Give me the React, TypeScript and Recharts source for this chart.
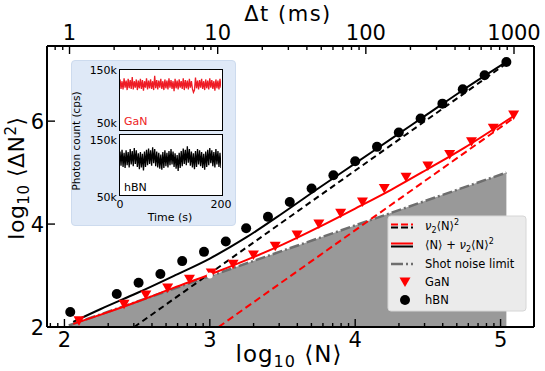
import React from 'react'
import { ComposedChart, LineChart, Line, Area, Scatter, XAxis, YAxis } from 'recharts'

const FONT = '"DejaVu Sans", Verdana, sans-serif'
const RED = '#ff0000'

// hBN / GaN points, log10 <N> vs log10 <dN^2>
const hbnX = [2.04, 2.36, 2.51, 2.66, 2.81, 2.96, 3.11, 3.25, 3.40, 3.55, 3.70, 3.85, 4.00, 4.15, 4.30, 4.45, 4.60, 4.74, 4.89, 5.04]
const hbnY = [2.29, 2.64, 2.86, 3.03, 3.28, 3.46, 3.66, 3.92, 4.14, 4.43, 4.69, 4.95, 5.22, 5.50, 5.78, 6.05, 6.34, 6.62, 6.89, 7.15]
const ganX = [2.10, 2.41, 2.56, 2.71, 2.86, 3.01, 3.16, 3.30, 3.45, 3.60, 3.75, 3.90, 4.05, 4.20, 4.35, 4.50, 4.65, 4.80, 4.95, 5.09]
const ganY = [2.12, 2.44, 2.62, 2.76, 2.93, 3.05, 3.22, 3.40, 3.57, 3.79, 4.00, 4.21, 4.43, 4.69, 4.91, 5.13, 5.35, 5.60, 5.86, 6.12]

// fitted curves <N> + v2<N>^2
const hbnFitX = [2.06, 2.25, 2.5, 2.75, 3.0, 3.25, 3.5, 3.75, 4.0, 4.25, 4.5, 4.75, 5.04]
const hbnFitY = [2.10, 2.35, 2.66, 2.99, 3.33, 3.74, 4.21, 4.70, 5.18, 5.66, 6.14, 6.62, 7.15]
const ganFitX = [2.06, 2.25, 2.5, 2.75, 3.0, 3.25, 3.5, 3.75, 4.0, 4.25, 4.5, 4.75, 5.09]
const ganFitY = [2.06, 2.24, 2.49, 2.76, 3.02, 3.30, 3.60, 3.94, 4.30, 4.67, 5.07, 5.48, 6.10]

// v2<N>^2 only
const hbnSqX = [2.48, 5.04]
const hbnSqY = [2.0, 7.12]
const ganSqX = [3.06, 5.09]
const ganSqY = [2.0, 6.06]

// shot noise limit
const shotX = [2.03, 5.04]
const shotY = [2.03, 5.0]

const yTicks = [2, 4, 6]
const topLabels = [1, 10, 100, 1000]

// inset traces (kcps), 0..200 s
const ganTrace = [
  134,118,131,117,136,120,132,116,135,119, 133,118,138,117,131,120,134,116,132,119,
  135,118,133,115,131,120,136,117,132,119, 134,118,131,116,140,119,133,117,132,120,
  135,118,131,116,134,119,132,117,136,120, 133,118,131,114,135,119,132,117,134,120,
  131,118,136,116,133,119,132,117,135,120, 131,118,112,116,137,119,132,117,133,120,
  135,118,131,116,134,119,132,117,136,120, 133,118,131,115,134,119,132,117,135,120,
]
const hbnTrace = [
  122,98,125,96,120,94,124,99,121,95, 126,100,123,97,128,101,124,96,119,92,
  121,95,118,90,122,96,125,99,127,101, 124,98,129,102,126,97,122,95,120,93,
  117,91,121,94,124,97,120,95,123,99, 126,100,122,96,119,93,116,89,120,94,
  123,97,127,101,125,99,131,103,126,98, 122,95,119,92,123,96,126,100,124,97,
  121,94,118,91,122,96,125,99,128,102, 124,97,121,95,126,100,123,96,120,94,
]

const X_DOMAIN: [number, number] = [1.88, 5.23]
const TOP_DOMAIN: [number, number] = [-0.152, 3.135]
const Y_DOMAIN: [number, number] = [2, 7.46]

const pts = (xs: number[], ys: number[]) => xs.map((x, i) => ({ x, y: ys[i] }))

const logTicks = (d0: number, d1: number, [lo, hi]: [number, number]) => {
  const out: number[] = []
  for (let d = d0; d <= d1; d++)
    for (let k = 1; k <= 9; k++) {
      const v = d + Math.log10(k)
      if (v >= lo && v <= hi) out.push(v)
    }
  return out
}
const bottomTicks = logTicks(1, 5, X_DOMAIN)
const topTicks = logTicks(-1, 3, TOP_DOMAIN)
const isMajor = (v: number) => Math.abs(v - Math.round(v)) < 1e-6

function BottomTick({ x, y, payload }: any) {
  const v = payload.value
  const major = isMajor(v)
  return (
    <g>
      <line x1={x} x2={x} y1={y} y2={y - (major ? 8 : 4)} stroke="#000" strokeWidth={1.4} />
      {major && (
        <text x={x} y={y + 20} textAnchor="middle" fontSize={21} fontFamily={FONT} fill="#000">
          {Math.round(v)}
        </text>
      )}
    </g>
  )
}

function TopTick({ x, y, payload }: any) {
  const v = payload.value
  const major = isMajor(v)
  return (
    <g>
      <line x1={x} x2={x} y1={y} y2={y + (major ? 8 : 4)} stroke="#000" strokeWidth={1.4} />
      {major && (
        <text x={x} y={y - 6} textAnchor="middle" fontSize={21} fontFamily={FONT} fill="#000">
          {topLabels[Math.round(v)]}
        </text>
      )}
    </g>
  )
}

function LeftTick({ x, y, payload }: any) {
  return (
    <g>
      <line x1={x} x2={x + 8} y1={y} y2={y} stroke="#000" strokeWidth={1.4} />
      <text x={x - 3} y={y + 7.5} textAnchor="end" fontSize={21} fontFamily={FONT} fill="#000">
        {payload.value}
      </text>
    </g>
  )
}

const TriDown = ({ cx, cy }: any) => (
  <polygon points={`${cx - 5.5},${cy - 4.5} ${cx + 5.5},${cy - 4.5} ${cx},${cy + 5}`} fill={RED} />
)
const Dot = ({ cx, cy }: any) => <circle cx={cx} cy={cy} r={5} fill="#000" />

// same axes in both layers; the top layer draws them over the grey area
function axes(show: boolean) {
  const line = show ? { stroke: '#000', strokeWidth: 2 } : false
  return [
    <XAxis
      key="b" xAxisId="b" type="number" dataKey="x" domain={X_DOMAIN} allowDataOverflow
      ticks={bottomTicks} interval={0} tick={show ? <BottomTick /> : false} tickLine={false}
      tickSize={0} tickMargin={0} height={44} axisLine={line}
    />,
    <XAxis
      key="t" xAxisId="t" orientation="top" type="number" dataKey="x" domain={TOP_DOMAIN} allowDataOverflow
      ticks={topTicks} interval={0} tick={show ? <TopTick /> : false} tickLine={false}
      tickSize={0} tickMargin={0} height={46} axisLine={line}
    />,
    <YAxis
      key="l" yAxisId="l" type="number" dataKey="y" domain={Y_DOMAIN} allowDataOverflow
      ticks={yTicks} interval={0} tick={show ? <LeftTick /> : false} tickLine={false}
      tickSize={0} tickMargin={0} width={47} axisLine={line}
    />,
    <YAxis
      key="r" yAxisId="r" orientation="right" type="number" dataKey="y" domain={[0, 1]} allowDataOverflow
      tick={false} tickLine={false} width={1} axisLine={line}
    />,
  ]
}

function Panel({ top, values, color }: { top: number; values: number[]; color: string }) {
  const data = values.map((v, i) => ({ t: i * 2, v }))
  return (
    <div
      style={{
        position: 'absolute', left: 119, top, width: 104, height: 62,
        border: '1.5px solid #000', boxSizing: 'border-box', background: '#fff',
      }}
    >
      <LineChart width={101} height={59} data={data} margin={{ top: 0, right: 0, bottom: 0, left: 0 }}>
        <XAxis dataKey="t" type="number" domain={[0, 198]} hide />
        <YAxis type="number" domain={[50, 150]} hide />
        <Line dataKey="v" stroke={color} strokeWidth={1.3} dot={false} isAnimationActive={false} />
      </LineChart>
    </div>
  )
}

const legendRows = [226, 245, 264, 282, 300]
const MARGIN = { top: 0, right: 10, bottom: 0, left: 0 }

export default function App() {
  const txt = { fontFamily: FONT, fill: '#000' }
  return (
    <div style={{ position: 'absolute', left: 0, top: 0, width: 545, height: 371, background: '#fff' }}>
      <ComposedChart width={545} height={371} margin={MARGIN}>
        {axes(false)}
        <Area
          xAxisId="b" yAxisId="l" data={pts(shotX, shotY)} dataKey="y" type="linear"
          baseValue={2} fill="#999999" fillOpacity={1} stroke="none" isAnimationActive={false}
        />
        <Line
          xAxisId="b" yAxisId="l" data={pts(shotX, shotY)} dataKey="y" type="linear"
          stroke="#6e6e6e" strokeWidth={2.5} strokeDasharray="10 3 2 3" dot={false} isAnimationActive={false}
        />
        <Line
          xAxisId="b" yAxisId="l" data={pts(hbnSqX, hbnSqY)} dataKey="y" type="linear"
          stroke="#000" strokeWidth={2} strokeDasharray="6 4" dot={false} isAnimationActive={false}
        />
        <Line
          xAxisId="b" yAxisId="l" data={pts(ganSqX, ganSqY)} dataKey="y" type="linear"
          stroke={RED} strokeWidth={2} strokeDasharray="7 4" dot={false} isAnimationActive={false}
        />
        <Line
          xAxisId="b" yAxisId="l" data={pts(hbnFitX, hbnFitY)} dataKey="y" type="monotone"
          stroke="#000" strokeWidth={2} dot={false} isAnimationActive={false}
        />
        <Line
          xAxisId="b" yAxisId="l" data={pts(ganFitX, ganFitY)} dataKey="y" type="monotone"
          stroke={RED} strokeWidth={2} dot={false} isAnimationActive={false}
        />
        <Scatter
          xAxisId="b" yAxisId="l" data={pts(ganX, ganY)} dataKey="y"
          shape={(p: any) => <TriDown cx={p.cx} cy={p.cy} />} isAnimationActive={false}
        />
        <Scatter
          xAxisId="b" yAxisId="l" data={pts(hbnX, hbnY)} dataKey="y"
          shape={(p: any) => <Dot cx={p.cx} cy={p.cy} />} isAnimationActive={false}
        />
      </ComposedChart>

      <div style={{ position: 'absolute', left: 0, top: 0 }}>
        <ComposedChart width={545} height={371} margin={MARGIN}>
          {axes(true)}
          <Line xAxisId="b" yAxisId="l" data={[{ x: 3, y: 3 }]} dataKey="y" stroke="none" dot={false} isAnimationActive={false} />
          <Line xAxisId="t" yAxisId="r" data={[{ x: 1, y: 0.5 }]} dataKey="y" stroke="none" dot={false} isAnimationActive={false} />
        </ComposedChart>
      </div>

      {/* inset */}
      <div
        style={{
          position: 'absolute', left: 71, top: 60, width: 165, height: 166,
          background: '#dfe9f7', border: '1px solid #cddbee', borderRadius: 4, boxSizing: 'border-box',
        }}
      />
      <Panel top={69} values={ganTrace} color="#ee1c25" />
      <Panel top={134} values={hbnTrace} color="#000" />

      <svg width={545} height={371} style={{ position: 'absolute', left: 0, top: 0, pointerEvents: 'none' }}>
        {/* axis titles */}
        <text x={288} y={21} textAnchor="middle" fontSize={21} letterSpacing={1.5} {...txt}>Δt (ms)</text>
        <text x={289} y={362} textAnchor="middle" fontSize={23} letterSpacing={1} {...txt}>
          log<tspan fontSize={16} dy={5}>10</tspan>
          <tspan dy={-5}> ⟨N⟩</tspan>
        </text>
        <text x={24} y={178} textAnchor="middle" fontSize={22} letterSpacing={0.5} transform="rotate(-90 24 178)" {...txt}>
          log<tspan fontSize={15} dy={5}>10</tspan>
          <tspan dy={-5}> ⟨ΔN</tspan>
          <tspan fontSize={15} dy={-8}>2</tspan>
          <tspan dy={8}>⟩</tspan>
        </text>

        {/* inset labels */}
        <g fontSize={11} {...txt}>
          <text x={117} y={74} textAnchor="end">150k</text>
          <text x={117} y={127} textAnchor="end">50k</text>
          <text x={117} y={144} textAnchor="end">150k</text>
          <text x={117} y={201} textAnchor="end">50k</text>
          <text x={120} y={208} textAnchor="middle">0</text>
          <text x={221} y={208} textAnchor="middle">200</text>
          <text x={170} y={221} textAnchor="middle">Time (s)</text>
          <text x={124} y={125} fill="#ee1c25">GaN</text>
          <text x={124} y={191}>hBN</text>
          <text x={80} y={141} textAnchor="middle" transform="rotate(-90 80 141)" fontSize={10.5}>
            Photon count  (cps)
          </text>
        </g>

        {/* legend */}
        <rect x={388} y={216} width={138} height={95} rx={3} fill="#ebebeb" stroke="#d6d6d6" />
        <g strokeWidth={2}>
          <line x1={391} x2={413} y1={legendRows[0] - 1.5} y2={legendRows[0] - 1.5} stroke={RED} strokeDasharray="7 3" />
          <line x1={391} x2={413} y1={legendRows[0] + 1.5} y2={legendRows[0] + 1.5} stroke="#000" strokeDasharray="7 3" />
          <line x1={391} x2={413} y1={legendRows[1] - 1.5} y2={legendRows[1] - 1.5} stroke={RED} />
          <line x1={391} x2={413} y1={legendRows[1] + 1.5} y2={legendRows[1] + 1.5} stroke="#000" />
          <line x1={391} x2={413} y1={legendRows[2]} y2={legendRows[2]} stroke="#6e6e6e" strokeWidth={2.5} strokeDasharray="12 3 2 3" />
        </g>
        <TriDown cx={405} cy={legendRows[3]} />
        <Dot cx={405} cy={legendRows[4]} />
        <g fontSize={11.5} {...txt}>
          <text x={425} y={legendRows[0] + 4}>
            <tspan fontStyle="italic">ν</tspan>
            <tspan fontSize={8} dy={3}>2</tspan>
            <tspan dy={-3}>⟨N⟩</tspan>
            <tspan fontSize={8} dy={-5}>2</tspan>
          </text>
          <text x={425} y={legendRows[1] + 4}>
            ⟨N⟩ + <tspan fontStyle="italic">ν</tspan>
            <tspan fontSize={8} dy={3}>2</tspan>
            <tspan dy={-3}>⟨N⟩</tspan>
            <tspan fontSize={8} dy={-5}>2</tspan>
          </text>
          <text x={425} y={legendRows[2] + 4}>Shot noise limit</text>
          <text x={425} y={legendRows[3] + 4}>GaN</text>
          <text x={425} y={legendRows[4] + 4}>hBN</text>
        </g>
      </svg>
    </div>
  )
}
